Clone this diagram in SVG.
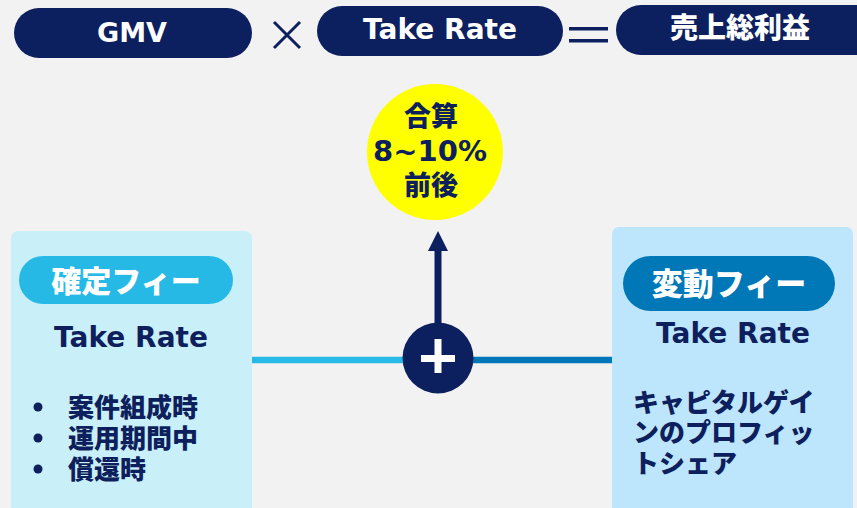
<svg xmlns="http://www.w3.org/2000/svg" width="857" height="508" viewBox="0 0 857 508">
<defs>
<style>
.t{font-family:"DejaVu Sans","Noto Sans CJK JP",sans-serif;font-weight:bold;}
.j{font-family:"Noto Sans CJK JP","DejaVu Sans",sans-serif;font-weight:900;}
.w{fill:#ffffff;}
.n{fill:#0d1f5c;}
.pill{fill:#0c1f5e;}
</style>
</defs>
<rect x="0" y="0" width="857" height="508" fill="#f2f2f2"/>

<g id="gmv">
<rect class="pill" x="14" y="8" width="238" height="50" rx="25"/>
<text class="t w" x="132" y="42" font-size="27" text-anchor="middle">GMV</text>
</g>
<g id="times">
<path d="M274,22 L300,48 M300,22 L274,48" stroke="#0c1f5e" stroke-width="3" fill="none"/>
</g>
<g id="takerate-top">
<rect class="pill" x="317" y="6" width="246" height="50" rx="25"/>
<text class="t w" x="440" y="39" font-size="28" text-anchor="middle">Take Rate</text>
</g>
<g id="equals">
<rect x="569" y="27" width="39" height="3.5" fill="#0c1f5e"/>
<rect x="569" y="39" width="39" height="3.5" fill="#0c1f5e"/>
</g>
<g id="gross-profit">
<rect class="pill" x="616" y="5" width="266" height="50" rx="25"/>
<text class="j w" x="740" y="38" font-size="28" text-anchor="middle">売上総利益</text>
</g>

<g id="total">
<circle cx="435" cy="152" r="68" fill="#ffff00"/>
<text class="j n" text-anchor="middle" font-size="27"><tspan x="431" y="126">合算</tspan><tspan class="t" x="430" y="161" font-size="29">8~10%</tspan><tspan x="431" y="195">前後</tspan></text>
</g>

<g id="fixed-fee">
<rect x="11" y="231" width="241" height="290" rx="7" fill="#c9eff8"/>
<rect x="19" y="256" width="214" height="48" rx="24" fill="#27b9e6"/>
<text class="j w" x="126" y="292" font-size="30" text-anchor="middle">確定フィー</text>
<text class="t n" x="131" y="347" font-size="28" text-anchor="middle">Take Rate</text>
<circle cx="38" cy="407" r="4.5" fill="#0d1f5c"/>
<circle cx="38" cy="438" r="4.5" fill="#0d1f5c"/>
<circle cx="38" cy="469" r="4.5" fill="#0d1f5c"/>
<text class="j n" font-size="26"><tspan x="68" y="417">案件組成時</tspan><tspan x="68" y="448">運用期間中</tspan><tspan x="68" y="479">償還時</tspan></text>
</g>

<g id="variable-fee">
<rect x="612" y="227" width="241" height="294" rx="7" fill="#bde5fb"/>
<rect x="623" y="256" width="212" height="55" rx="27.5" fill="#0078b8"/>
<text class="j w" x="729" y="295" font-size="31" text-anchor="middle">変動フィー</text>
<text class="t n" x="733" y="343" font-size="28" text-anchor="middle">Take Rate</text>
<text class="j n" font-size="26"><tspan x="633" y="412">キャピタルゲイ</tspan><tspan x="633" y="442">ンのプロフィッ</tspan><tspan x="633" y="473">トシェア</tspan></text>
</g>

<g id="connectors">
<line x1="252" y1="360" x2="405" y2="360" stroke="#29b9e6" stroke-width="6.5"/>
<line x1="470" y1="360" x2="612" y2="360" stroke="#0078b8" stroke-width="6.5"/>
<line x1="438" y1="325" x2="438" y2="249" stroke="#0c1f5e" stroke-width="7"/>
<path d="M438,231 L448,251 L428,251 Z" fill="#0c1f5e"/>
</g>

<g id="plus">
<circle cx="438" cy="358" r="35.5" fill="#0c1f5e"/>
<rect x="421" y="355" width="34" height="7" fill="#ffffff"/>
<rect x="434.5" y="339" width="7" height="34" fill="#ffffff"/>
</g>
</svg>
